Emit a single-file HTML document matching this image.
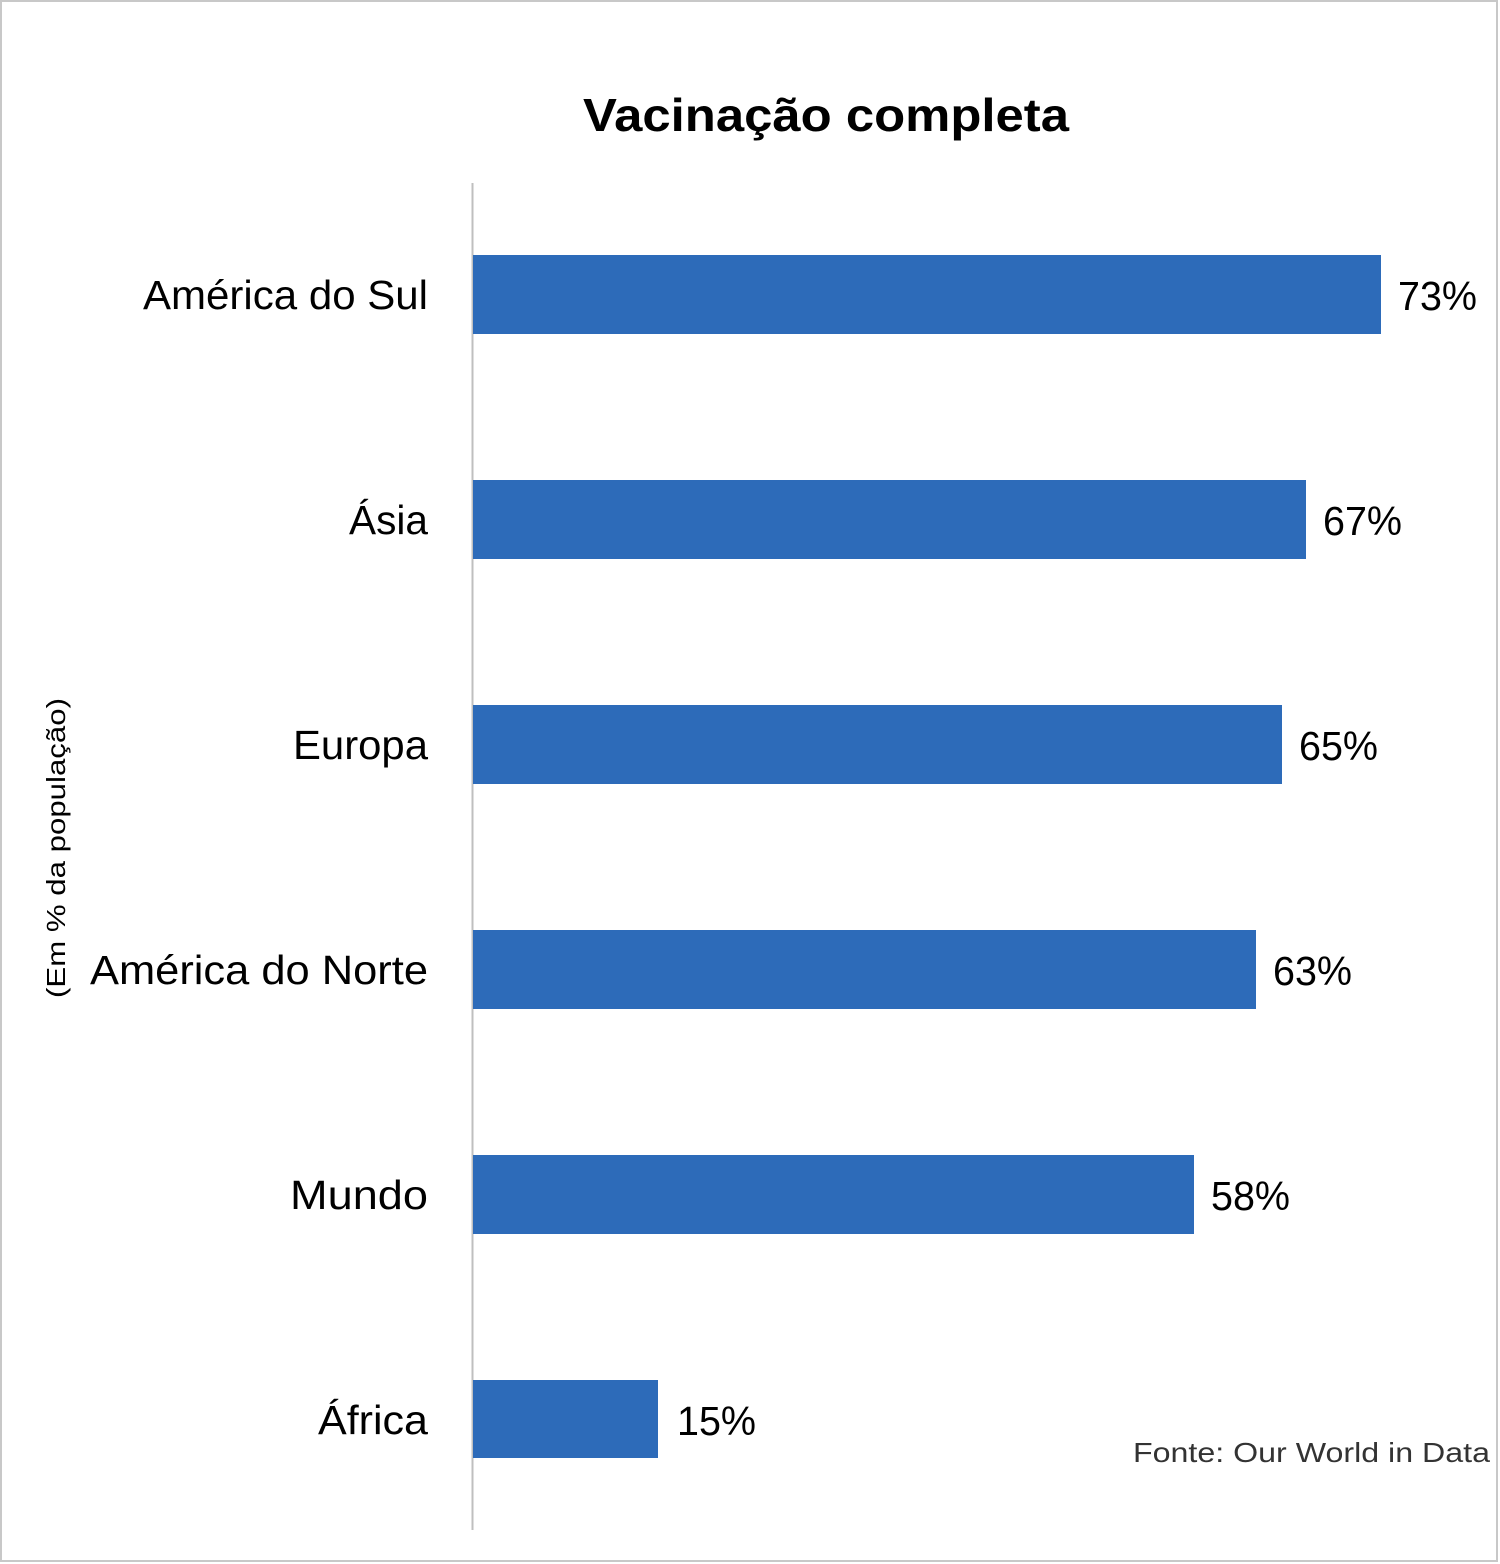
<!DOCTYPE html>
<html><head><meta charset="utf-8"><style>
html,body{margin:0;padding:0;background:#fff;}
svg{display:block;}
text{font-family:"Liberation Sans",sans-serif;fill:#000;}
</style></head><body>
<svg width="1500" height="1564" viewBox="0 0 1500 1564">
<rect x="1" y="1" width="1496" height="1560" fill="#fff" stroke="#c8c8c8" stroke-width="2"/>
<text x="826" y="131" text-anchor="middle" font-size="46" font-weight="bold" textLength="486" lengthAdjust="spacingAndGlyphs">Vacinação completa</text>
<line x1="472.5" y1="183" x2="472.5" y2="1530" stroke="#bfbfbf" stroke-width="2"/>
<g fill="#2d6bb9">
<rect x="473" y="255" width="908" height="79"/>
<rect x="473" y="480" width="833" height="79"/>
<rect x="473" y="705" width="809" height="79"/>
<rect x="473" y="930" width="783" height="79"/>
<rect x="473" y="1155" width="721" height="79"/>
<rect x="473" y="1380" width="185" height="78"/>
</g>
<g font-size="41" text-anchor="end">
<text x="428" y="309" textLength="285" lengthAdjust="spacingAndGlyphs">América do Sul</text>
<text x="428" y="534" textLength="79" lengthAdjust="spacingAndGlyphs">Ásia</text>
<text x="428" y="759" textLength="135" lengthAdjust="spacingAndGlyphs">Europa</text>
<text x="428" y="984" textLength="338" lengthAdjust="spacingAndGlyphs">América do Norte</text>
<text x="428" y="1209" textLength="138" lengthAdjust="spacingAndGlyphs">Mundo</text>
<text x="428" y="1434" textLength="110" lengthAdjust="spacingAndGlyphs">África</text>
</g>
<g font-size="41">
<text x="1398" y="310" textLength="79" lengthAdjust="spacingAndGlyphs">73%</text>
<text x="1323" y="535" textLength="79" lengthAdjust="spacingAndGlyphs">67%</text>
<text x="1299" y="760" textLength="79" lengthAdjust="spacingAndGlyphs">65%</text>
<text x="1273" y="985" textLength="79" lengthAdjust="spacingAndGlyphs">63%</text>
<text x="1211" y="1210" textLength="79" lengthAdjust="spacingAndGlyphs">58%</text>
<text x="677" y="1435" textLength="79" lengthAdjust="spacingAndGlyphs">15%</text>
</g>
<text transform="translate(65,848) rotate(-90)" text-anchor="middle" font-size="26" textLength="300" lengthAdjust="spacingAndGlyphs">(Em % da população)</text>
<text x="1490" y="1462" text-anchor="end" font-size="28" fill="#333" style="fill:#333" textLength="357" lengthAdjust="spacingAndGlyphs">Fonte: Our World in Data</text>
</svg>
</body></html>
